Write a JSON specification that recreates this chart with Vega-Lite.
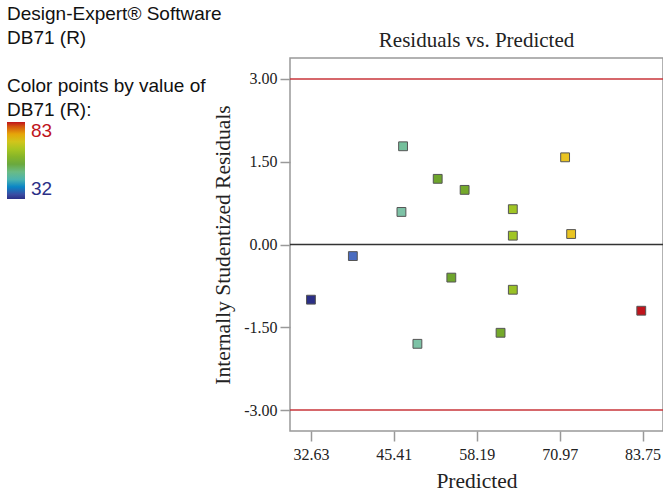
{
  "$schema": "https://vega.github.io/schema/vega-lite/v6.json",
  "autosize": {"type": "none"},
  "width": 373,
  "height": 373,
  "padding": {"left": 290, "top": 58, "right": 0, "bottom": 62},
  "background": "white",
  "title": {
    "text": "Residuals vs. Predicted",
    "font": "Liberation Serif",
    "fontSize": 21,
    "fontWeight": "normal",
    "color": "#222",
    "anchor": "middle",
    "frame": "group",
    "offset": 6,
    "dy": 52
  },
  "config": {
    "view": {"stroke": "#999", "strokeWidth": 1.5},
    "legend": {"titleLineHeight": 24},
    "axis": {
      "labelFont": "Liberation Serif",
      "labelFontSize": 16,
      "labelColor": "#222",
      "titleFont": "Liberation Serif",
      "titleFontSize": 21.5,
      "titleFontWeight": "normal",
      "titleColor": "#222",
      "domainColor": "#999",
      "domainWidth": 1.5,
      "tickColor": "#999",
      "tickWidth": 1.5,
      "tickSize": 10,
      "grid": false
    }
  },
  "layer": [
    {
      "data": {"values": [{"ref": 3}, {"ref": -3}]},
      "mark": {"type": "rule", "color": "#c8353a", "strokeWidth": 1.5},
      "encoding": {"y": {"field": "ref", "type": "quantitative", "scale": {"domain": [-3.38, 3.38]}}}
    },
    {
      "data": {"values": [{"ref": 0}]},
      "mark": {"type": "rule", "color": "#333", "strokeWidth": 1.5},
      "encoding": {"y": {"field": "ref", "type": "quantitative"}}
    },
    {
      "data": {
        "values": [
          {"predicted": 32.63, "residual": -1.00, "db71": 32},
          {"predicted": 39.09, "residual": -0.21, "db71": 38},
          {"predicted": 46.83, "residual": 1.78, "db71": 48},
          {"predicted": 46.58, "residual": 0.59, "db71": 47},
          {"predicted": 49.04, "residual": -1.80, "db71": 47},
          {"predicted": 52.17, "residual": 1.19, "db71": 56},
          {"predicted": 56.32, "residual": 0.99, "db71": 57},
          {"predicted": 54.27, "residual": -0.60, "db71": 56},
          {"predicted": 61.86, "residual": -1.60, "db71": 57},
          {"predicted": 63.75, "residual": 0.64, "db71": 64},
          {"predicted": 63.75, "residual": 0.16, "db71": 64},
          {"predicted": 63.75, "residual": -0.82, "db71": 63},
          {"predicted": 71.81, "residual": 1.58, "db71": 73},
          {"predicted": 72.74, "residual": 0.19, "db71": 73},
          {"predicted": 83.55, "residual": -1.20, "db71": 83}
        ]
      },
      "mark": {"type": "square", "size": 78, "opacity": 1, "filled": true, "stroke": "#555", "strokeWidth": 1},
      "encoding": {
        "x": {
          "field": "predicted",
          "type": "quantitative",
          "title": "Predicted",
          "scale": {"domain": [29.4, 86.9], "nice": false, "zero": false},
          "axis": {
            "values": [32.63, 45.41, 58.19, 70.97, 83.75],
            "format": ".2f",
            "labelPadding": 5,
            "titlePadding": 8,
            "domain": false
          }
        },
        "y": {
          "field": "residual",
          "type": "quantitative",
          "title": "Internally Studentized Residuals",
          "scale": {"domain": [-3.38, 3.38], "nice": false, "zero": false},
          "axis": {
            "values": [-3, -1.5, 0, 1.5, 3],
            "format": ".2f",
            "labelExpr": "replace(datum.label, '\u2212', '-')",
            "labelPadding": 3,
            "titlePadding": 9,
            "domain": false
          }
        },
        "color": {
          "field": "db71",
          "type": "quantitative",
          "scale": {
            "domain": [32, 38, 47, 56, 64, 73, 83],
            "range": ["#2b2f86", "#4a6cc0", "#7dc2a6", "#6ea52c", "#a0c524", "#e9c422", "#c0141c"]
          },
          "legend": {
            "title": ["Design-Expert® Software", "DB71 (R)", "\u200b", "Color points by value of", "DB71 (R):"],
            "titleFont": "Liberation Sans",
            "titleFontSize": 19,
            "titleFontWeight": "normal",
            "titleColor": "#111",
            "titleLimit": 300,
            "titlePadding": 2,
            "orient": "none",
            "legendX": -283,
            "legendY": -53,
            "direction": "vertical",
            "gradientLength": 77,
            "gradientThickness": 18,
            "gradientStrokeWidth": 0,
            "values": [32, 83],
            "labelFont": "Liberation Sans",
            "labelFontSize": 19,
            "labelOffset": 6,
            "labelColor": {"expr": "datum.value > 50 ? '#c0141c' : '#2b2f86'"}
          }
        }
      }
    }
  ]
}
